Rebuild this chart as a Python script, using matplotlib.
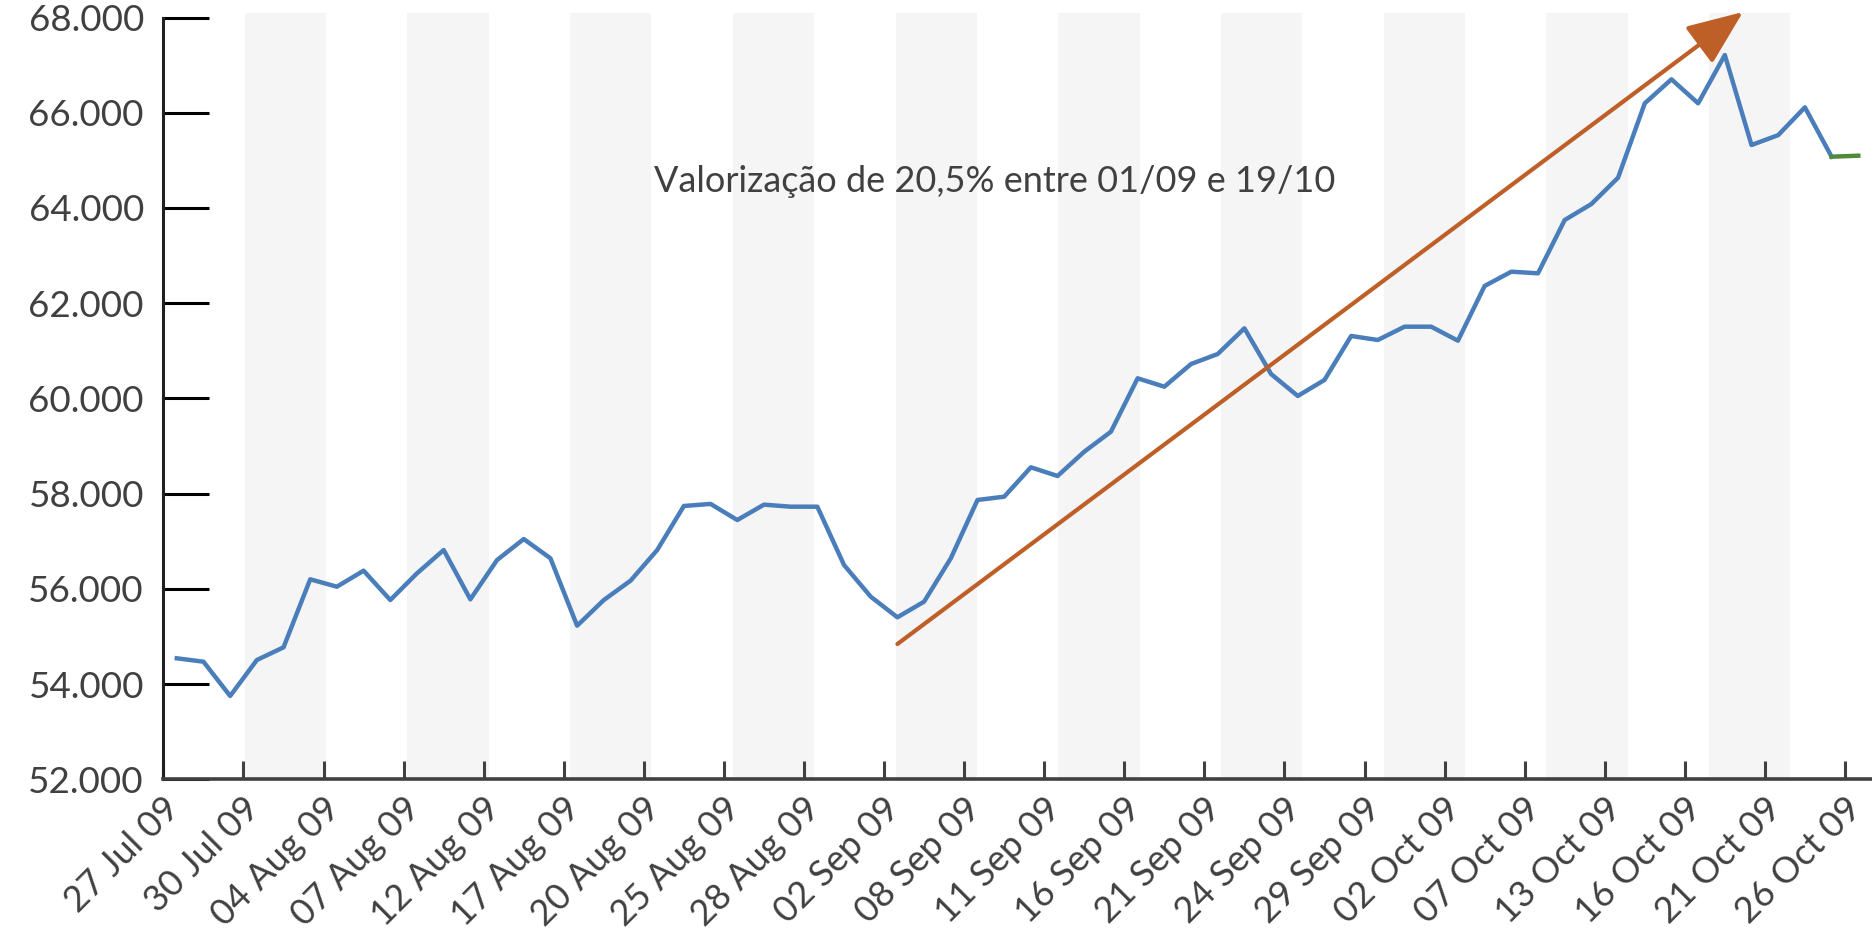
import matplotlib
matplotlib.use("Agg")
import matplotlib.pyplot as plt
from matplotlib.patches import ArrowStyle

# ---------- dados (Ibovespa, fechamento diário) ----------
datas = ["27 Jul 09", "30 Jul 09", "04 Aug 09", "07 Aug 09", "12 Aug 09", "17 Aug 09",
         "20 Aug 09", "25 Aug 09", "28 Aug 09", "02 Sep 09", "08 Sep 09", "11 Sep 09",
         "16 Sep 09", "21 Sep 09", "24 Sep 09", "29 Sep 09", "02 Oct 09", "07 Oct 09",
         "13 Oct 09", "16 Oct 09", "21 Oct 09", "26 Oct 09"]

ibov = [54543, 54472, 53752, 54507, 54774, 56202, 56047, 56383, 55767, 56328,
        56817, 55782, 56607, 57048, 56643, 55228, 55767, 56173, 56817, 57742,
        57785, 57447, 57770, 57727, 57727, 56502, 55837, 55404, 55733, 56643,
        57868, 57937, 58554, 58372, 58882, 59302, 60423, 60247, 60723, 60933,
        61473, 60513, 60052, 60388, 61312, 61228, 61507, 61507, 61213, 62362,
        62662, 62628, 63747, 64083, 64636, 66198, 66702, 66198, 67212, 65322,
        65530, 66114, 65077]
ultimo = 65098   # último pregão (segmento verde)

seta_ini = (27.0, 54843)
seta_fim = (58.68, 68115)
texto = "Valorização de 20,5% entre 01/09 e 19/10"
texto_pos = (30.64, 64342)

# ---------- estilo ----------
plt.rcParams['font.family'] = ['Lato', 'DejaVu Sans']
AZUL = "#4A7EBB"
LARANJA = "#BE5F28"
VERDE = "#4E8A3A"
CINZA = "#404040"
FAIXA = "#F5F5F5"

n = len(ibov) + 1
x = list(range(len(ibov)))

fig = plt.figure(figsize=(18.72, 9.34), dpi=100)
ax = fig.add_axes([0.0873, 0.16552, 0.9125, 0.81574])

# faixas cinzas alternadas (21 colunas sobre a largura toda)
largura = n / 21
for i in range(1, 21, 2):
    ax.axvspan(-0.5 + i * largura, -0.5 + (i + 1) * largura, ymin=0, ymax=1.006,
               color=FAIXA, lw=0, zorder=0, clip_on=False)

ax.plot(x, ibov, color=AZUL, lw=3.2, zorder=3)
ax.plot([x[-1], x[-1] + 1], [ibov[-1], ultimo], color=VERDE, lw=3.2, zorder=3)

ax.annotate("", xy=seta_fim, xytext=seta_ini, annotation_clip=False,
            arrowprops=dict(arrowstyle=ArrowStyle('-|>', head_length=2.3, head_width=0.95),
                            mutation_scale=15, lw=3.0, color=LARANJA,
                            shrinkA=0, shrinkB=0), zorder=4)
ax.text(texto_pos[0], texto_pos[1], texto, ha='center', va='baseline',
        fontsize=26, color=CINZA, zorder=5)

ax.set_xlim(-0.5, n - 0.5)
ax.set_ylim(52000, 68000)

yt = list(range(52000, 68001, 2000))
ax.set_yticks(yt)
ax.set_yticklabels([f"{v // 1000}.000" for v in yt], fontsize=26.5, color=CINZA)

# marcas entre categorias; rótulos um pouco à direita de cada marca
xt = [3 * i - 0.5 for i in range(len(datas))]
ax.set_xticks(xt)
ax.set_xticklabels([])
ax.set_xticks([p + 0.4 for p in xt], minor=True)
ax.set_xticklabels(datas, minor=True, fontsize=26, color=CINZA, rotation=45,
                   ha='right', va='center', rotation_mode='anchor')

ax.tick_params(axis='y', direction='in', length=33, width=2.2, color='black', pad=14)
ax.tick_params(axis='x', which='major', direction='in', length=13, width=2.2, color=CINZA)
ax.tick_params(axis='x', which='minor', length=0, pad=17)

for s in ['top', 'right']:
    ax.spines[s].set_visible(False)
ax.spines['left'].set_color('#202020')
ax.spines['left'].set_linewidth(2.2)
ax.spines['bottom'].set_color(CINZA)
ax.spines['bottom'].set_linewidth(2.6)
ax.set_facecolor('white')

fig.savefig("out.png", dpi=100)
